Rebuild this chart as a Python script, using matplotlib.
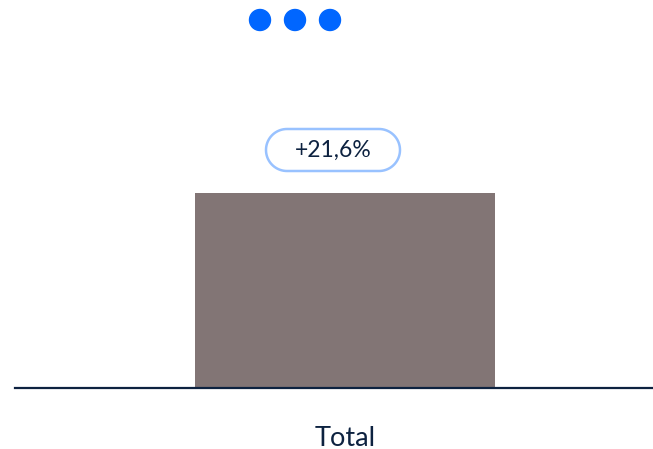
import numpy as np
import matplotlib.pyplot as plt
from matplotlib.patches import Polygon, Ellipse
from matplotlib.transforms import Affine2D

plt.rcParams["font.family"] = ["Lato", "DejaVu Sans"]

categories = ["Total"]
values = [121.6]
change_labels = ["+21,6%"]

navy = "#0D2240"

fig = plt.figure(figsize=(6.53, 4.49), dpi=100)
ax = fig.add_axes([15 / 653, 61 / 449, 638 / 653, 388 / 449])

x = list(range(len(categories)))
ax.bar(x, values, width=1.0, color="#827575", zorder=2)

ax.set_xlim(-1.1, 1.0267)
ax.set_ylim(0, values[0] * 388 / 195)

for side in ["top", "right", "left"]:
    ax.spines[side].set_visible(False)
ax.spines["bottom"].set_color(navy)
ax.spines["bottom"].set_linewidth(1.6)
ax.set_yticks([])
ax.set_xticks(x)
ax.set_xticklabels(categories, fontsize=19.5, color=navy)
ax.tick_params(axis="x", length=0, pad=27)


def pill(cx, cy, w, h):
    # stadium outline in pixel units
    r = h / 2
    t = np.linspace(-np.pi / 2, np.pi / 2, 40)
    right = np.column_stack([cx + w / 2 - r + r * np.cos(t), cy + r * np.sin(t)])
    left = np.column_stack([cx - w / 2 + r - r * np.cos(t), cy - r * np.sin(t)])
    return np.vstack([right, left])


# pill-shaped change label above the bar (sizes in pixels)
for xi, v, lab in zip(x, values, change_labels):
    px, py = ax.transData.transform((xi, v))
    trans = Affine2D().translate(px, py)
    box = Polygon(pill(-12, 43, 134, 42), closed=True, fc="white",
                  ec="#99C2FF", lw=1.8, transform=trans)
    fig.patches.append(box)
    fig.text(-12, 43, lab, transform=trans, ha="center", va="center",
             fontsize=16.5, color=navy)

# three-dot menu icon
for cx in [260, 295, 330]:
    fig.patches.append(Ellipse((cx / 653, 1 - 20 / 449), 21 / 653, 21 / 449,
                               transform=fig.transFigure, color="#0066FF"))

fig.savefig("out.png", dpi=100)
